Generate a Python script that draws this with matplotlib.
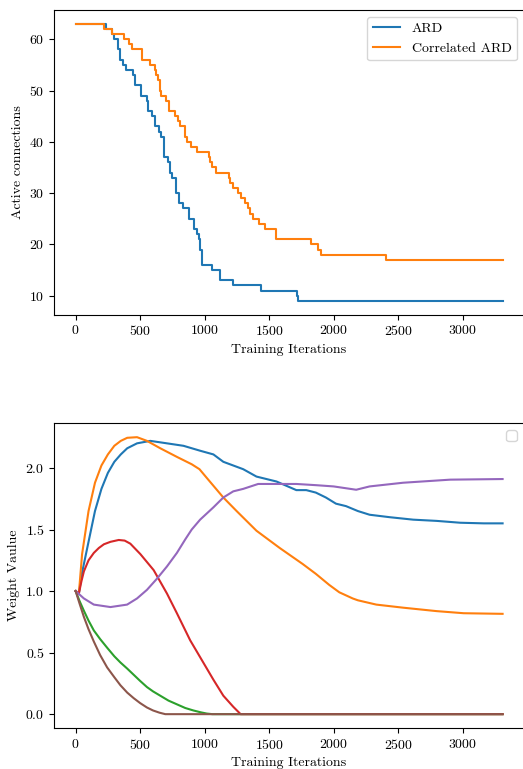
import matplotlib
matplotlib.use("Agg")
import matplotlib.pyplot as plt

plt.rcParams['font.family'] = 'serif'
plt.rcParams['font.serif'] = ['cmr10']
plt.rcParams['mathtext.fontset'] = 'cm'
plt.rcParams['axes.formatter.use_mathtext'] = True
plt.rcParams['font.size'] = 10

# ---- top panel: active connections (step data) ----
ard_iter = [0, 232, 283, 301, 329, 347, 368, 394, 443, 463, 509, 553, 558, 589,
            612, 643, 664, 687, 713, 728, 746, 780, 800, 829, 875, 919, 939, 957,
            967, 983, 1060, 1119, 1222, 1436, 1716, 1724, 3310]
ard_count = [63, 62, 61, 60, 58, 56, 55, 54, 53, 51, 49, 48, 46, 45,
             43, 42, 41, 37, 36, 34, 33, 30, 28, 27, 25, 23, 22, 21,
             19, 16, 15, 13, 12, 11, 10, 9, 9]

cor_iter = [0, 219, 283, 378, 417, 437, 515, 579, 612, 625, 636, 651, 664, 702,
            720, 774, 792, 810, 849, 862, 894, 939, 1037, 1042, 1055, 1086, 1189,
            1196, 1217, 1258, 1284, 1310, 1336, 1354, 1375, 1419, 1465, 1550,
            1827, 1879, 1905, 2407, 3310]
cor_count = [63, 62, 61, 60, 59, 58, 56, 55, 54, 53, 52, 50, 49, 48,
             46, 45, 44, 43, 41, 40, 39, 38, 37, 36, 35, 34, 33,
             32, 31, 30, 29, 28, 27, 26, 25, 24, 23, 21,
             20, 19, 18, 17, 17]

# ---- bottom panel: weight values ----
w0_x = [0, 25, 50, 100, 150, 200, 250, 300, 350, 400, 476, 579, 708, 836, 965,
        1068, 1145, 1299, 1402, 1557, 1711, 1788, 1862, 1940, 2018, 2096, 2188,
        2279, 2435, 2617, 2799, 2982, 3164, 3310]
w0_y = [1.0, 0.98, 1.15, 1.40, 1.65, 1.83, 1.96, 2.05, 2.11, 2.16, 2.20, 2.22,
        2.20, 2.18, 2.14, 2.11, 2.05, 1.99, 1.93, 1.89, 1.82, 1.82, 1.80, 1.76,
        1.71, 1.69, 1.65, 1.62, 1.60, 1.58, 1.57, 1.555, 1.55, 1.55]

w1_x = [0, 25, 50, 100, 150, 200, 250, 300, 350, 400, 476, 553, 656, 785, 900,
        960, 1016, 1145, 1248, 1402, 1582, 1760, 1862, 1966, 2044, 2148, 2188,
        2331, 2539, 2799, 3008, 3310]
w1_y = [1.0, 0.98, 1.30, 1.65, 1.88, 2.02, 2.11, 2.18, 2.22, 2.245, 2.25, 2.22,
        2.16, 2.09, 2.03, 1.99, 1.92, 1.76, 1.65, 1.49, 1.35, 1.22, 1.14, 1.05,
        0.99, 0.94, 0.925, 0.89, 0.865, 0.837, 0.82, 0.815]

w2_x = [0, 30, 64, 100, 141, 190, 244, 300, 347, 400, 450, 500, 553, 600, 656,
        720, 785, 850, 913, 970, 1016, 1060, 3310]
w2_y = [1.0, 0.92, 0.84, 0.76, 0.68, 0.61, 0.54, 0.47, 0.42, 0.37, 0.32, 0.27,
        0.22, 0.185, 0.15, 0.11, 0.08, 0.05, 0.03, 0.015, 0.005, 0.0, 0.0]

w3_x = [0, 25, 45, 64, 100, 141, 180, 219, 270, 334, 380, 424, 502, 605, 708,
        785, 888, 978, 1068, 1145, 1222, 1279, 3310]
w3_y = [1.0, 0.98, 1.08, 1.16, 1.25, 1.31, 1.35, 1.38, 1.40, 1.415, 1.41, 1.385,
        1.30, 1.17, 0.98, 0.82, 0.60, 0.44, 0.28, 0.15, 0.06, 0.0, 0.0]

w4_x = [0, 64, 141, 270, 399, 476, 553, 630, 708, 785, 850, 900, 965, 1068, 1145,
        1222, 1299, 1415, 1608, 1711, 1866, 2000, 2175, 2279, 2539, 2904, 3310]
w4_y = [1.0, 0.94, 0.89, 0.87, 0.89, 0.94, 1.01, 1.10, 1.20, 1.31, 1.42, 1.50,
        1.58, 1.68, 1.76, 1.81, 1.83, 1.87, 1.87, 1.87, 1.86, 1.85, 1.823, 1.85,
        1.88, 1.905, 1.91]

w5_x = [0, 30, 64, 100, 141, 190, 244, 300, 347, 400, 450, 500, 553, 600, 650,
        695, 3310]
w5_y = [1.0, 0.90, 0.79, 0.69, 0.59, 0.48, 0.38, 0.30, 0.235, 0.175, 0.13, 0.09,
        0.054, 0.03, 0.012, 0.0, 0.0]

weights = [(w0_x, w0_y), (w1_x, w1_y), (w2_x, w2_y),
           (w3_x, w3_y), (w4_x, w4_y), (w5_x, w5_y)]

fig = plt.figure(figsize=(5.23, 7.69), dpi=100)
ax1 = fig.add_axes([0.1038, 0.5908, 0.898, 0.3962])
ax2 = fig.add_axes([0.1038, 0.0533, 0.898, 0.3962])

ax1.step(ard_iter, ard_count, where='post', label='ARD')
ax1.step(cor_iter, cor_count, where='post', label='Correlated ARD')
ax1.set_xlabel('Training Iterations')
ax1.set_ylabel('Active connections')
ax1.legend(loc='upper right')

for i, (wx, wy) in enumerate(weights):
    ax2.plot(wx, wy, color=f'C{i}')
ax2.set_xlabel('Training Iterations')
ax2.set_ylabel('Weight Vaulue')
ax2.legend()

fig.savefig('out.png', dpi=100)
